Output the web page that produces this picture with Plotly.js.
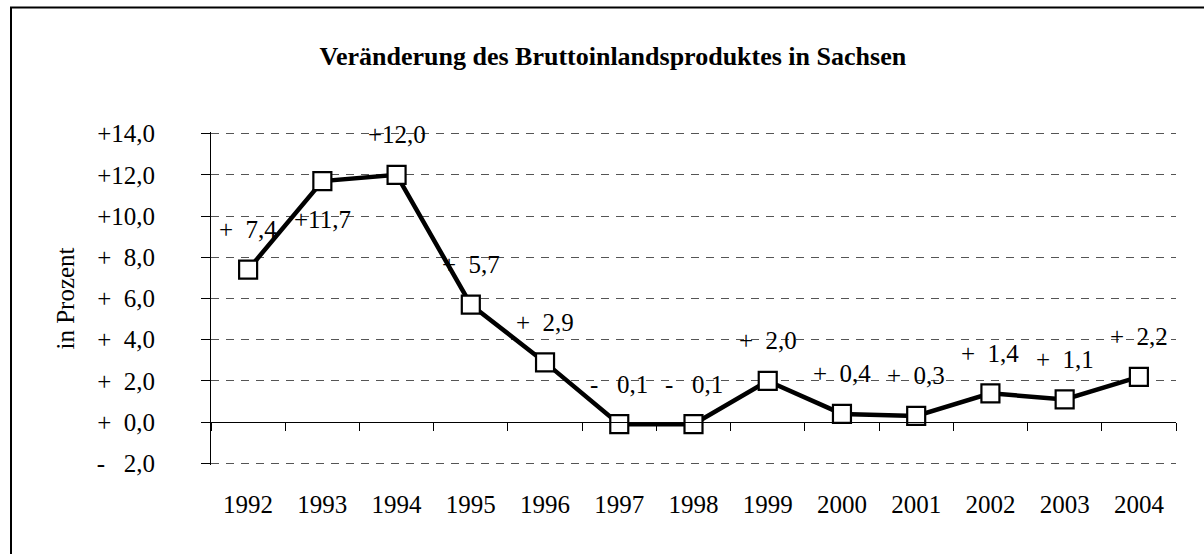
<!DOCTYPE html>
<html>
<head>
<meta charset="utf-8">
<script src="https://cdn.plot.ly/plotly-3.0.1.min.js"></script>
<style>
  html, body { margin: 0; padding: 0; background: #fff; }
  #chart { width: 1204px; height: 554px; }
</style>
</head>
<body>
<div id="chart"></div>
<script>
// ---- data ----
const years = ['1992','1993','1994','1995','1996','1997','1998','1999','2000','2001','2002','2003','2004'];
const change = [7.4, 11.7, 12.0, 5.7, 2.9, -0.1, -0.1, 2.0, 0.4, 0.3, 1.4, 1.1, 2.2];
const yTicks = [-2, 0, 2, 4, 6, 8, 10, 12, 14];
const chartTitle = 'Veränderung des Bruttoinlandsproduktes in Sachsen';
const yTitle = 'in Prozent';

// ---- formatting ----
const FS = '\u2007'; // figure space (digit width)
function fmt(v) {
  const a = Math.abs(v);
  const num = a.toFixed(1).replace('.', ',');
  const pad = a < 10 ? FS : '';
  return v < 0 ? '- ' + pad + num : '+' + pad + num;
}

const font = 'Liberation Serif, Times New Roman, serif';
const fs = 25;
const yMin = -2, yMax = 14, eps = 0.08;
const n = years.length;
const pxPerUnit = 329 / (yMax - yMin);

// label placement: default above the point, 1993 below
const labelShift = { '1993': -38 };

const annotations = years.map((yr, i) => ({
  x: i, y: change[i], xref: 'x', yref: 'y',
  text: fmt(change[i]), showarrow: false,
  xanchor: 'center', yanchor: 'middle',
  yshift: (labelShift[yr] !== undefined) ? labelShift[yr] : 40,
  font: { family: font, size: fs, color: '#000' }
}));

const boundaries = [];
for (let i = 0; i <= n; i++) boundaries.push(i - 0.5);

const traces = [
  {
    x: years, y: change, type: 'scatter', mode: 'lines+markers',
    line: { color: '#000', width: 4.5 },
    marker: { symbol: 'square', size: 18, color: '#fff', line: { color: '#000', width: 2.2 } },
    hoverinfo: 'x+y', showlegend: false, cliponaxis: false
  },
  {
    x: [boundaries[0], boundaries[n]], y: [0, 0], xaxis: 'x2', yaxis: 'y',
    type: 'scatter', mode: 'lines', line: { width: 0, color: 'rgba(0,0,0,0)' },
    hoverinfo: 'skip', showlegend: false
  }
];

const layout = {
  width: 1204, height: 554,
  paper_bgcolor: '#fff', plot_bgcolor: '#fff',
  margin: { l: 211, r: 28, t: 134 - eps * pxPerUnit, b: 91 - eps * pxPerUnit, autoexpand: false },
  showlegend: false,
  title: {
    text: '<b>' + chartTitle + '</b>',
    font: { family: font, size: 26, color: '#000' },
    xref: 'container', x: 0.509, xanchor: 'center',
    yref: 'container', y: 1 - 56 / 554, yanchor: 'middle'
  },
  xaxis: {
    type: 'category', range: [-0.5, n - 0.5],
    showline: false, showgrid: false, zeroline: false, ticks: '',
    tickfont: { family: font, size: fs, color: '#000' },
    ticklabelstandoff: 22, fixedrange: true
  },
  xaxis2: {
    overlaying: 'x', anchor: 'free', position: (0 - yMin + eps) / (yMax - yMin + 2 * eps),
    type: 'linear', range: [boundaries[0], boundaries[n]],
    tickmode: 'array', tickvals: boundaries, showticklabels: false,
    ticks: 'outside', ticklen: 8, tickwidth: 1, tickcolor: '#000',
    showline: true, linecolor: '#000', linewidth: 1,
    showgrid: false, zeroline: false, fixedrange: true
  },
  yaxis: {
    range: [yMin - eps, yMax + eps],
    tickmode: 'array', tickvals: yTicks, ticktext: yTicks.map(fmt),
    tickfont: { family: font, size: fs, color: '#000' },
    ticks: 'outside', ticklen: 9, tickwidth: 1, tickcolor: '#000',
    ticklabelstandoff: 41,
    showline: true, linecolor: '#000', linewidth: 1,
    showgrid: true, gridcolor: '#555', gridwidth: 1, griddash: '8px,7px',
    zeroline: false, fixedrange: true,
    title: { text: yTitle, font: { family: font, size: fs, color: '#000' }, standoff: 14 }
  },
  annotations: annotations,
  shapes: [{
    type: 'rect', xref: 'paper', yref: 'paper',
    x0: (11 - 211) / 965, x1: (1215 - 211) / 965,
    y0: (463 - 560) / 329, y1: (463 - 11) / 329,
    line: { color: '#000', width: 2 }, fillcolor: 'rgba(0,0,0,0)', layer: 'below'
  }]
};

Plotly.newPlot('chart', traces, layout, { displayModeBar: false, staticPlot: true });
</script>
</body>
</html>
